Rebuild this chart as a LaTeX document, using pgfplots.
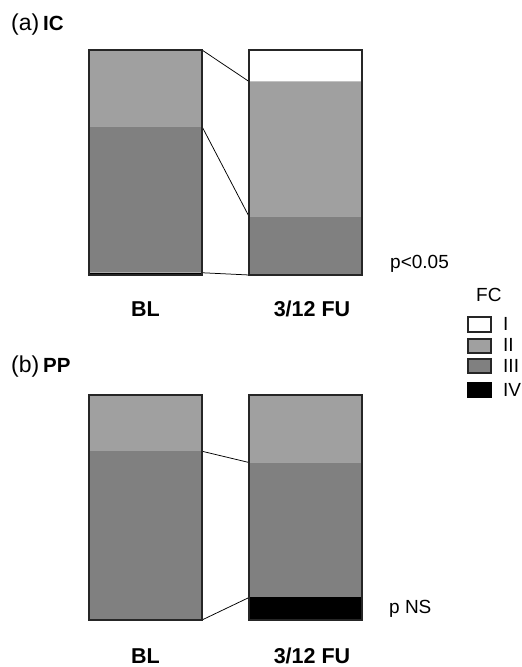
\documentclass[border=0pt]{standalone}
\usepackage{pgfplots}
\pgfplotsset{compat=1.18}
\usepackage{fontspec}
\setmainfont{Liberation Sans}
\definecolor{cII}{HTML}{A0A0A0}
\definecolor{cIII}{HTML}{808080}
\pgfplotsset{
  panel/.style={scale only axis, width=273pt, height=225pt,
    xmin=-0.353, xmax=1.353, ymin=0, ymax=100, axis lines=none,
    clip=false, anchor=south west},
}
\begin{document}
\begin{tikzpicture}
\path (0,0) rectangle (521pt,667pt);
% ---------- panel (a) IC ----------
\begin{axis}[panel, at={(89pt,392pt)}, ybar stacked, bar width=0.706]
\addplot[fill=black, draw=none] coordinates {(0,1) (1,0)};
\addplot[fill=cIII, draw=none] coordinates {(0,65) (1,26)};
\addplot[fill=cII, draw=none] coordinates {(0,34) (1,60)};
\addplot[fill=white, draw=none] coordinates {(0,0) (1,14)};
\end{axis}
\begin{axis}[panel, at={(89pt,392pt)}]
\addplot[black, line width=0.75pt, mark=none] coordinates {(0.353,100) (0.647,86)};
\addplot[black, line width=0.75pt, mark=none] coordinates {(0.353,66) (0.647,26)};
\addplot[black, line width=0.75pt, mark=none] coordinates {(0.353,1) (0.647,0)};
\draw[black!85, line width=1.1pt] (axis cs:-0.353,0) rectangle (axis cs:0.353,100);
\draw[black!85, line width=1.1pt] (axis cs:0.647,0) rectangle (axis cs:1.353,100);
\end{axis}
% ---------- panel (b) PP ----------
\begin{axis}[panel, at={(89pt,47pt)}, ybar stacked, bar width=0.706]
\addplot[fill=black, draw=none] coordinates {(0,0) (1,10)};
\addplot[fill=cIII, draw=none] coordinates {(0,75) (1,60)};
\addplot[fill=cII, draw=none] coordinates {(0,25) (1,30)};
\addplot[fill=white, draw=none] coordinates {(0,0) (1,0)};
\end{axis}
\begin{axis}[panel, at={(89pt,47pt)}]
\addplot[black, line width=0.75pt, mark=none] coordinates {(0.353,75) (0.647,70)};
\addplot[black, line width=0.75pt, mark=none] coordinates {(0.353,0) (0.647,10)};
\draw[black!85, line width=1.1pt] (axis cs:-0.353,0) rectangle (axis cs:0.353,100);
\draw[black!85, line width=1.1pt] (axis cs:0.647,0) rectangle (axis cs:1.353,100);
\end{axis}
% ---------- texts ----------
\node[anchor=base west, inner sep=0pt, font=\fontsize{23}{23}\selectfont] at (11pt,636pt) {(a)\,\textbf{\fontsize{20.5}{20.5}\selectfont IC}};
\node[anchor=base west, inner sep=0pt, font=\fontsize{23}{23}\selectfont] at (11pt,294pt) {(b)\,\textbf{\fontsize{20.5}{20.5}\selectfont PP}};
\node[anchor=base, inner sep=0pt, font=\fontsize{21.5}{21.5}\selectfont\bfseries] at (145.5pt,350pt) {BL};
\node[anchor=base, inner sep=0pt, font=\fontsize{21.5}{21.5}\selectfont\bfseries] at (312pt,350pt) {3/12 FU};
\node[anchor=base, inner sep=0pt, font=\fontsize{21.5}{21.5}\selectfont\bfseries] at (145.5pt,4pt) {BL};
\node[anchor=base, inner sep=0pt, font=\fontsize{21.5}{21.5}\selectfont\bfseries] at (312pt,4pt) {3/12 FU};
\node[anchor=base west, inner sep=0pt, font=\fontsize{19}{19}\selectfont] at (390pt,398pt) {p<0.05};
\node[anchor=base west, inner sep=0pt, font=\fontsize{19}{19}\selectfont] at (389pt,53pt) {p NS};
% ---------- legend ----------
\node[anchor=base west, inner sep=0pt, font=\fontsize{19}{19}\selectfont] at (476pt,365pt) {FC};
\draw[black!85, line width=1.3pt, fill=white] (468pt,335pt) rectangle (491pt,350pt);
\draw[black!85, line width=1.3pt, fill=cII] (468pt,314pt) rectangle (491pt,328pt);
\draw[black!85, line width=1.3pt, fill=cIII] (468pt,294pt) rectangle (491pt,308pt);
\draw[black, line width=1.3pt, fill=black] (468pt,270pt) rectangle (491pt,284pt);
\node[anchor=base west, inner sep=0pt, font=\fontsize{19}{19}\selectfont] at (503pt,336pt) {I};
\node[anchor=base west, inner sep=0pt, font=\fontsize{19}{19}\selectfont] at (503pt,315pt) {II};
\node[anchor=base west, inner sep=0pt, font=\fontsize{19}{19}\selectfont] at (503pt,294pt) {III};
\node[anchor=base west, inner sep=0pt, font=\fontsize{19}{19}\selectfont] at (503pt,270pt) {IV};
\end{tikzpicture}
\end{document}
